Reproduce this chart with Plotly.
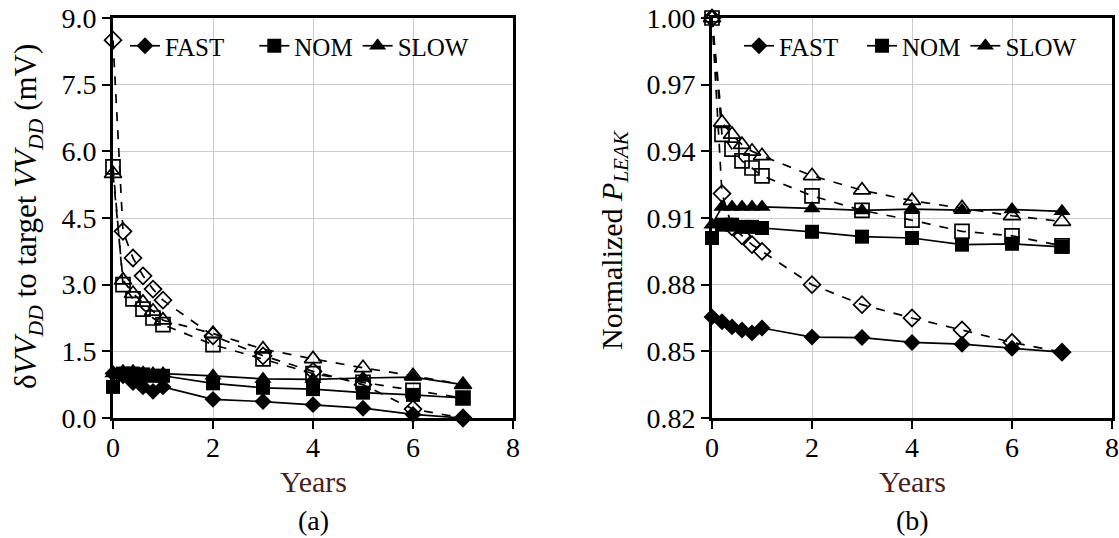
import plotly.graph_objects as go

years = [0, 0.2, 0.4, 0.6, 0.8, 1, 2, 3, 4, 5, 6, 7]

# (a) delta VV_DD to target (mV)
a_fast = [1.0, 0.95, 0.8, 0.7, 0.6, 0.7, 0.42, 0.37, 0.3, 0.22, 0.08, 0.0]
a_nom = [0.7, 1.0, 1.0, 0.98, 0.95, 0.95, 0.78, 0.68, 0.65, 0.57, 0.52, 0.45]
a_slow = [1.0, 1.05, 1.05, 1.02, 1.0, 1.0, 0.95, 0.88, 0.87, 0.9, 0.92, 0.75]
a_fast_d = [8.5, 4.2, 3.6, 3.2, 2.9, 2.65, 1.85, 1.4, 1.05, 0.75, 0.2, 0.0]
a_nom_d = [5.65, 3.0, 2.68, 2.45, 2.25, 2.1, 1.65, 1.33, 1.0, 0.8, 0.62, 0.45]
a_slow_d = [5.5, 3.1, 2.8, 2.6, 2.4, 2.2, 1.9, 1.55, 1.33, 1.13, 0.95, 0.75]

# (b) normalized P_LEAK
b_fast = [0.8655, 0.8633, 0.861, 0.8596, 0.8583, 0.8605, 0.8564, 0.8562, 0.854, 0.8532, 0.8514, 0.8496]
b_nom = [0.901, 0.907, 0.907, 0.906, 0.906, 0.9055, 0.9038, 0.9016, 0.901, 0.898, 0.8984, 0.897]
b_slow = [0.907, 0.915, 0.915, 0.915, 0.915, 0.915, 0.9143, 0.9134, 0.914, 0.9135, 0.9138, 0.913]
b_fast_d = [1.0, 0.921, 0.906, 0.902, 0.898, 0.895, 0.880, 0.871, 0.865, 0.8596, 0.854, 0.8496]
b_nom_d = [1.0, 0.9476, 0.941, 0.9357, 0.9325, 0.929, 0.920, 0.9134, 0.909, 0.904, 0.902, 0.8975]
b_slow_d = [1.0, 0.953, 0.9476, 0.943, 0.940, 0.938, 0.929, 0.9225, 0.9178, 0.9145, 0.911, 0.9084]

a_ticks = [0.0, 1.5, 3.0, 4.5, 6.0, 7.5, 9.0]
b_ticks = [0.82, 0.85, 0.88, 0.91, 0.94, 0.97, 1.00]
x_ticks = [0, 2, 4, 6, 8]

NB = "\u00a0"
names_a = ["FAST" + NB * 4, "NOM", "SLOW"]
names_b = ["FAST" + NB * 3, "NOM", "SLOW"]
symbols = ["diamond", "square", "triangle-up"]
sizes = [13, 14, 15]

FONT = "Liberation Serif"
fig = go.Figure()

def add_panel(xa, ya, solid, dashed, legend, labels):
    for i in range(3):
        fig.add_trace(go.Scatter(
            x=years, y=dashed[i], mode="lines+markers", xaxis=xa, yaxis=ya,
            line=dict(color="black", width=1.7, dash="dash"),
            marker=dict(symbol=symbols[i] + "-open", size=sizes[i], color="black",
                        line=dict(width=1.7, color="black")),
            showlegend=False, cliponaxis=False))
    for i in range(3):
        fig.add_trace(go.Scatter(
            x=years, y=solid[i], mode="lines+markers", xaxis=xa, yaxis=ya,
            name=labels[i], legend=legend,
            line=dict(color="black", width=1.7),
            marker=dict(symbol=symbols[i], size=sizes[i], color="black"),
            cliponaxis=False))

add_panel("x", "y", [a_fast, a_nom, a_slow], [a_fast_d, a_nom_d, a_slow_d], "legend", names_a)
add_panel("x2", "y2", [b_fast, b_nom, b_slow], [b_fast_d, b_nom_d, b_slow_d], "legend2", names_b)

W, H = 1119, 538
def py(p):
    return 1 - p / H

ydom = [py(418), py(18)]
axis_common = dict(showline=True, linecolor="black", linewidth=3, mirror=True,
                   showgrid=True, gridcolor="#cccccc", gridwidth=1,
                   ticks="outside", ticklen=8, tickwidth=2, tickcolor="black",
                   tickfont=dict(family=FONT, size=28, color="black"), zeroline=False,
                   automargin=False)
xaxis_extra = dict(ticklabelstandoff=-6)

fig.update_layout(
    width=W, height=H, margin=dict(l=0, r=0, t=0, b=0),
    paper_bgcolor="white", plot_bgcolor="white",
    font=dict(family=FONT, size=25, color="black"),
    xaxis=dict(domain=[113 / W, 513 / W], range=[0, 8], tickvals=x_ticks, **xaxis_extra, **axis_common),
    yaxis=dict(domain=ydom, range=[0, 9], tickvals=a_ticks, tickformat=".1f", **axis_common),
    xaxis2=dict(domain=[712 / W, 1112 / W], range=[0, 8], tickvals=x_ticks, anchor="y2",
                **xaxis_extra, **axis_common),
    yaxis2=dict(domain=ydom, range=[0.82, 1.0], tickvals=b_ticks, tickformat=".2f", anchor="x2",
                **axis_common),
    legend=dict(orientation="h", x=125 / W, y=py(23), xanchor="left", yanchor="top",
                bgcolor="rgba(0,0,0,0)", font=dict(family=FONT, size=25), itemwidth=30,
                tracegroupgap=0),
    legend2=dict(orientation="h", x=739 / W, y=py(23), xanchor="left", yanchor="top",
                 bgcolor="rgba(0,0,0,0)", font=dict(family=FONT, size=25), itemwidth=30,
                 tracegroupgap=0),
    annotations=[
        dict(text="Years", x=313 / W, y=py(481), xref="paper", yref="paper", showarrow=False,
             xanchor="center", yanchor="middle",
             font=dict(family=FONT, size=30, color="#4a2020")),
        dict(text="Years", x=912 / W, y=py(481), xref="paper", yref="paper", showarrow=False,
             xanchor="center", yanchor="middle",
             font=dict(family=FONT, size=30, color="#4a2020")),
        dict(text="(a)", x=313 / W, y=py(520), xref="paper", yref="paper", showarrow=False,
             xanchor="center", yanchor="middle",
             font=dict(family=FONT, size=28, color="black")),
        dict(text="(b)", x=912 / W, y=py(520), xref="paper", yref="paper", showarrow=False,
             xanchor="center", yanchor="middle",
             font=dict(family=FONT, size=28, color="black")),
        dict(text="δ<i>VV</i><sub><i>DD</i></sub> to target <i>VV</i><sub><i>DD</i></sub> (mV)",
             x=28 / W, y=py(217), xref="paper", yref="paper", showarrow=False, textangle=-90,
             xanchor="center", yanchor="middle",
             font=dict(family=FONT, size=31, color="black")),
        dict(text="Normalized <i>P</i><sub><i>LEAK</i></sub>",
             x=614 / W, y=py(240), xref="paper", yref="paper", showarrow=False, textangle=-90,
             xanchor="center", yanchor="middle",
             font=dict(family=FONT, size=30, color="black")),
    ],
)

fig.write_html("out.html")
